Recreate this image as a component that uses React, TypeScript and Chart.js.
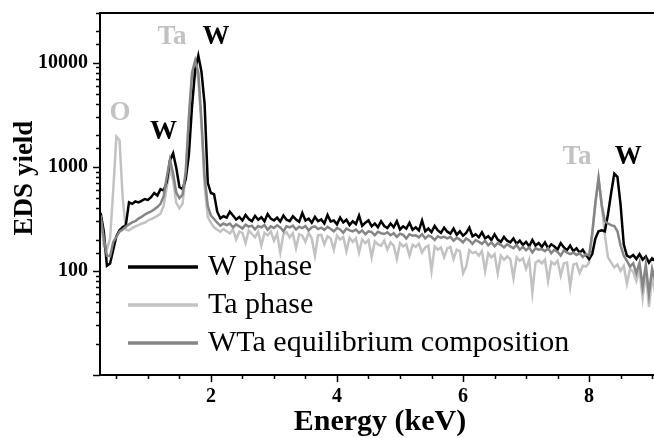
import { useEffect, useRef } from 'react';
import { Chart, registerables } from 'chart.js';

Chart.register(...registerables);

// Energy sampling grid (keV)
const energies: number[] = [
  0.25, 0.30, 0.35, 0.40, 0.45, 0.50, 0.55, 0.60, 0.65, 0.70,
  0.75, 0.80, 0.85, 0.90, 0.95, 1.00, 1.05, 1.10, 1.15, 1.20,
  1.25, 1.30, 1.35, 1.40, 1.45, 1.50, 1.55, 1.60, 1.65, 1.70,
  1.75, 1.80, 1.85, 1.90, 1.95, 2.00, 2.05, 2.10, 2.15, 2.20,
  2.25, 2.30, 2.35, 2.40, 2.45, 2.50, 2.55, 2.60, 2.65, 2.70,
  2.75, 2.80, 2.85, 2.90, 2.95, 3.00, 3.05, 3.10, 3.15, 3.20,
  3.25, 3.30, 3.35, 3.40, 3.45, 3.50, 3.55, 3.60, 3.65, 3.70,
  3.75, 3.80, 3.85, 3.90, 3.95, 4.00, 4.05, 4.10, 4.15, 4.20,
  4.25, 4.30, 4.35, 4.40, 4.45, 4.50, 4.55, 4.60, 4.65, 4.70,
  4.75, 4.80, 4.85, 4.90, 4.95, 5.00, 5.05, 5.10, 5.15, 5.20,
  5.25, 5.30, 5.35, 5.40, 5.45, 5.50, 5.55, 5.60, 5.65, 5.70,
  5.75, 5.80, 5.85, 5.90, 5.95, 6.00, 6.05, 6.10, 6.15, 6.20,
  6.25, 6.30, 6.35, 6.40, 6.45, 6.50, 6.55, 6.60, 6.65, 6.70,
  6.75, 6.80, 6.85, 6.90, 6.95, 7.00, 7.05, 7.10, 7.15, 7.20,
  7.25, 7.30, 7.35, 7.40, 7.45, 7.50, 7.55, 7.60, 7.65, 7.70,
  7.75, 7.80, 7.85, 7.90, 7.95, 8.00, 8.05, 8.10, 8.15, 8.20,
  8.25, 8.30, 8.35, 8.40, 8.45, 8.50, 8.55, 8.60, 8.65, 8.70,
  8.75, 8.80, 8.85, 8.90, 8.95, 9.00, 9.05,
];

// EDS yield, W phase
const wPhase: number[] = [
  360, 240, 112, 118, 160, 215, 245, 262, 275, 455,
  440, 465, 455, 470, 490, 480, 510, 560, 530, 610,
  590, 720, 1150, 1350, 980, 640, 610, 760, 1300, 3800,
  8500, 11700, 8200, 4000, 700, 560, 545, 370, 320, 335,
  325, 370, 340, 312, 330, 305, 345, 315, 300, 338,
  310, 328, 300, 352, 318, 305, 325, 298, 340, 310,
  300, 335, 312, 296, 360, 305, 318, 290, 330, 300,
  312, 285, 345, 298, 305, 280, 325, 292, 310, 276,
  300, 282, 340, 270, 290, 305, 268, 285, 262, 300,
  270, 258, 285, 262, 300, 250, 268, 255, 290, 248,
  262, 245, 305, 240, 255, 236, 270, 245, 232, 260,
  238, 228, 255, 222, 240, 218, 232, 260, 215, 225,
  210, 235, 205, 215, 198, 225, 200, 190, 212, 195,
  188, 205, 182, 195, 178, 190, 172, 198, 175, 185,
  170, 188, 165, 180, 172, 160, 185, 168, 158, 175,
  155, 165, 150, 160, 142, 130, 145, 205, 240, 245,
  240, 350, 560, 860, 800, 430, 180, 140, 135, 142,
  130, 145, 128, 138, 120, 132, 125,
];

// EDS yield, Ta phase
const taPhase: number[] = [
  330, 170, 162, 205, 600, 1950, 1800, 500, 250, 245,
  258, 268, 275, 285, 290, 305, 315, 325, 338, 355,
  420, 640, 940, 740, 450, 400, 440, 850, 2700, 7200,
  9800, 6800, 2500, 650, 330, 290, 262, 248, 238, 252,
  240, 228, 250, 200, 238, 232, 185, 245, 226, 210,
  238, 175, 232, 220, 240, 195, 228, 150, 225, 235,
  210, 230, 165, 225, 218, 190, 232, 205, 140, 220,
  222, 180, 215, 205, 160, 218, 200, 212, 155, 208,
  190, 205, 150, 200, 185, 198, 135, 192, 180, 175,
  195, 160, 188, 175, 130, 185, 172, 180, 140, 178,
  170, 182, 150, 168, 175, 100, 172, 160, 168, 135,
  165, 170, 130, 160, 155, 95, 110, 158, 148, 152,
  140, 155, 100, 148, 135, 145, 95, 140, 128, 138,
  130, 85, 135, 125, 132, 105, 128, 62, 120, 126,
  118, 128, 80, 122, 115, 125, 90, 118, 120, 70,
  115, 118, 95, 112, 110, 120, 225, 450, 780, 430,
  220, 135, 120, 108, 115, 100, 112, 75, 105, 98,
  80, 102, 55, 95, 45, 88, 60,
];

// EDS yield, WTa equilibrium composition
const wtaPhase: number[] = [
  340, 205, 140, 138, 190, 212, 238, 250, 265, 280,
  292, 300, 318, 330, 348, 360, 372, 390, 410, 440,
  520, 800, 1170, 860, 565, 500, 540, 900, 3000, 8000,
  10500, 8000, 2800, 800, 420, 340, 315, 290, 272, 285,
  275, 285, 262, 280, 268, 255, 278, 266, 272, 250,
  270, 262, 276, 248, 268, 258, 274, 262, 240, 268,
  262, 272, 250, 266, 258, 270, 245, 262, 268, 252,
  260, 248, 265, 252, 240, 258, 250, 232, 255, 245,
  240, 250, 232, 245, 225, 240, 236, 220, 238, 230,
  226, 235, 220, 230, 212, 228, 222, 205, 225, 218,
  220, 210, 225, 205, 218, 212, 198, 215, 208, 212,
  205, 212, 195, 208, 200, 188, 205, 196, 182, 198,
  190, 182, 195, 176, 188, 172, 185, 178, 168, 180,
  172, 165, 178, 160, 170, 158, 168, 150, 165, 160,
  162, 155, 165, 148, 160, 152, 140, 158, 150, 145,
  150, 142, 148, 136, 145, 140, 230, 450, 780, 430,
  300, 285, 275, 270, 240, 175, 140, 125, 110, 118,
  95, 120, 70, 115, 60, 105, 80,
];

const seriesNames: string[] = ['W phase', 'Ta phase', 'WTa equilibrium composition'];

const xTickLabels: number[] = [2, 4, 6, 8];
const yTickLabels: number[] = [100, 1000, 10000];

// Peak annotations (text, energy in keV, yield)
const peakLabels: string[] = ['O', 'W', 'Ta', 'W', 'Ta', 'W'];
const peakLabelEnergy: number[] = [0.556, 1.246, 1.381, 2.079, 7.81, 8.62];
const peakLabelYield: number[] = [3300, 2170, 17800, 17800, 1250, 1250];

const xTitle = 'Energy (keV)';
const yTitle = 'EDS yield';

// Styles
const BLACK = '#000000';
const LIGHT = '#c2c2c2';
const MID = '#858585';
const seriesColors = [BLACK, LIGHT, MID];
const peakLabelColors = [LIGHT, BLACK, LIGHT, BLACK, LIGHT, BLACK];
const SERIF = '"Liberation Serif", "Times New Roman", serif';

const zeroPad = (s: any) => {
  s.paddingTop = 0;
  s.paddingBottom = 0;
  s.paddingLeft = 0;
  s.paddingRight = 0;
};

const overlayPlugin = {
  id: 'overlay',
  afterDatasetsDraw(chart: any) {
    const { ctx, chartArea: a, scales } = chart;
    const xs = scales.x;
    const ys = scales.y;
    ctx.save();

    // frame
    ctx.strokeStyle = '#000';
    ctx.lineWidth = 2;
    ctx.beginPath();
    ctx.moveTo(a.right + 12, a.top);
    ctx.lineTo(a.left, a.top);
    ctx.lineTo(a.left, a.bottom);
    ctx.lineTo(a.right + 12, a.bottom);
    ctx.stroke();

    // tick marks
    ctx.lineWidth = 1.5;
    ctx.beginPath();
    for (const t of ys.ticks) {
      const p = Math.round(ys.getPixelForValue(t.value)) + 0.5;
      const lg = Math.log10(t.value);
      const major = Math.abs(lg - Math.round(lg)) < 1e-6;
      const len = major ? 7 : 4;
      ctx.moveTo(a.left - len, p);
      ctx.lineTo(a.left, p);
    }
    for (const t of xs.ticks) {
      const p = Math.round(xs.getPixelForValue(t.value)) + 0.5;
      const major = Math.abs(t.value / 2 - Math.round(t.value / 2)) < 1e-6;
      const len = major ? 7 : 4;
      ctx.moveTo(p, a.bottom);
      ctx.lineTo(p, a.bottom + len);
    }
    ctx.stroke();

    // peak labels
    ctx.font = `bold 27px ${SERIF}`;
    ctx.textAlign = 'center';
    ctx.textBaseline = 'middle';
    peakLabels.forEach((txt, i) => {
      ctx.fillStyle = peakLabelColors[i];
      ctx.fillText(txt, xs.getPixelForValue(peakLabelEnergy[i]), ys.getPixelForValue(peakLabelYield[i]));
    });

    // legend
    const rows = [a.bottom - 108, a.bottom - 70, a.bottom - 32];
    ctx.font = `30px ${SERIF}`;
    ctx.textAlign = 'left';
    ctx.textBaseline = 'middle';
    seriesNames.forEach((name, i) => {
      ctx.strokeStyle = seriesColors[i];
      ctx.lineWidth = 3.5;
      ctx.beginPath();
      ctx.moveTo(a.left + 28, rows[i]);
      ctx.lineTo(a.left + 98, rows[i]);
      ctx.stroke();
      ctx.fillStyle = '#000';
      ctx.fillText(name, a.left + 108, rows[i]);
    });

    // axis titles
    ctx.fillStyle = '#000';
    ctx.font = `bold 30px ${SERIF}`;
    ctx.textAlign = 'center';
    ctx.textBaseline = 'middle';
    ctx.fillText(xTitle, a.left + 280, a.bottom + 47);

    ctx.save();
    ctx.translate(a.left - 75, (a.top + a.bottom) / 2 - 16);
    ctx.rotate(-Math.PI / 2);
    ctx.font = `bold 27px ${SERIF}`;
    ctx.fillText(yTitle, 0, 0);
    ctx.restore();

    ctx.restore();
  },
};

export default function App() {
  const ref = useRef<HTMLCanvasElement>(null);

  useEffect(() => {
    if (!ref.current) return;
    const mk = (vals: number[]) => energies.map((e, i) => ({ x: e, y: vals[i] }));
    const chart = new Chart(ref.current, {
      type: 'line',
      data: {
        datasets: [
          { label: seriesNames[0], data: mk(wPhase), borderColor: BLACK, borderWidth: 2.5, pointRadius: 0, tension: 0, order: 2 },
          { label: seriesNames[1], data: mk(taPhase), borderColor: LIGHT, borderWidth: 2.5, pointRadius: 0, tension: 0, order: 3 },
          { label: seriesNames[2], data: mk(wtaPhase), borderColor: MID, borderWidth: 2.5, pointRadius: 0, tension: 0, order: 1 },
        ],
      },
      options: {
        animation: false,
        responsive: false,
        devicePixelRatio: 1,
        layout: { autoPadding: false, padding: { top: 13, right: 0, left: 0, bottom: 0 } },
        plugins: { legend: { display: false }, tooltip: { enabled: false } },
        scales: {
          x: {
            type: 'linear',
            min: 0.24,
            max: 9.03,
            grid: { display: false, drawTicks: false },
            border: { display: false },
            afterFit: (s: any) => { s.height = 63; zeroPad(s); },
            ticks: {
              stepSize: 0.5,
              includeBounds: false,
              autoSkip: false,
              maxRotation: 0,
              padding: 10,
              color: '#000',
              font: { family: SERIF, size: 20, weight: 'bold' },
              callback: (v: any) => (xTickLabels.includes(Math.round(Number(v) * 100) / 100) ? String(v) : ''),
            },
          },
          y: {
            type: 'logarithmic',
            min: 10,
            max: 30000,
            grid: { display: false, drawTicks: false },
            border: { display: false },
            afterFit: (s: any) => { s.width = 100; zeroPad(s); },
            ticks: {
              autoSkip: false,
              padding: 12,
              color: '#000',
              font: { family: SERIF, size: 20, weight: 'bold' },
              callback: (v: any) => (yTickLabels.includes(Math.round(Number(v))) ? String(Math.round(Number(v))) : ''),
            },
          },
        },
      },
      plugins: [overlayPlugin],
    } as any);
    return () => chart.destroy();
  }, []);

  return (
    <div style={{ position: 'absolute', left: 0, top: 0, width: 654, height: 438, background: '#fff' }}>
      <canvas ref={ref} width={654} height={438} style={{ display: 'block' }} />
    </div>
  );
}
